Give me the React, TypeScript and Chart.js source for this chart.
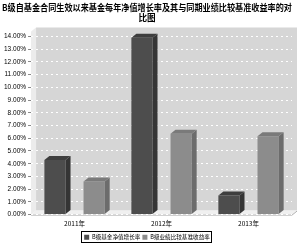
import React, { useEffect, useRef } from "react";
import { Chart, registerables } from "chart.js";

Chart.register(...registerables);

const titleLines = [
  "B级自基金合同生效以来基金每年净值增长率及其与同期业绩比较基准收益率的对",
  "比图",
];
const categories = ["2011年", "2012年", "2013年"];
const seriesNames = ["B级基金净值增长率", "B级业绩比较基准收益率"];
const navGrowth = [4.3, 13.9, 1.5];
const benchmark = [2.6, 6.35, 6.15];
const yMin = 0;
const yMax = 14;
const yStep = 1;

const frontColors = ["#4d4d4d", "#8c8c8c"];
const sideColors = ["#353535", "#6c6c6c"];
const topColors = ["#3e3e3e", "#7a7a7a"];

const depthX = 5;
const depthY = 4;

const wallPlugin = {
  id: "wall",
  beforeDraw(chart: any) {
    const { ctx, chartArea } = chart;
    const { left, right, top, bottom } = chartArea;
    ctx.save();
    ctx.fillStyle = "#ffffff";
    ctx.fillRect(0, 0, chart.width, chart.height);
    ctx.fillStyle = "#d6d6d6";
    ctx.fillRect(left + depthX, top - 9, right - left, bottom - top + 9 - depthY);
    ctx.fillStyle = "#ececec";
    ctx.beginPath();
    ctx.moveTo(left, top - 9 + depthY);
    ctx.lineTo(left + depthX, top - 9);
    ctx.lineTo(left + depthX, bottom - depthY);
    ctx.lineTo(left, bottom);
    ctx.closePath();
    ctx.fill();
    ctx.fillStyle = "#f0f0f0";
    ctx.beginPath();
    ctx.moveTo(left, bottom);
    ctx.lineTo(left + depthX, bottom - depthY);
    ctx.lineTo(right + depthX, bottom - depthY);
    ctx.lineTo(right, bottom);
    ctx.closePath();
    ctx.fill();
    ctx.strokeStyle = "#b0b0b0";
    ctx.lineWidth = 1;
    ctx.beginPath();
    ctx.moveTo(left, bottom + 0.5);
    ctx.lineTo(right, bottom + 0.5);
    ctx.lineTo(right + depthX, bottom - depthY + 0.5);
    ctx.stroke();
    ctx.restore();
  },
};

const bar3dPlugin = {
  id: "bar3d",
  afterDatasetsDraw(chart: any) {
    const { ctx } = chart;
    ctx.save();
    chart.data.datasets.forEach((ds: any, di: number) => {
      const meta = chart.getDatasetMeta(di);
      meta.data.forEach((bar: any) => {
        const { x, y, base, width } = bar.getProps(["x", "y", "base", "width"], true);
        const l = x - width / 2;
        const r = x + width / 2;
        ctx.fillStyle = sideColors[di];
        ctx.beginPath();
        ctx.moveTo(r, y);
        ctx.lineTo(r + depthX, y - depthY);
        ctx.lineTo(r + depthX, base - depthY);
        ctx.lineTo(r, base);
        ctx.closePath();
        ctx.fill();
        ctx.fillStyle = topColors[di];
        ctx.beginPath();
        ctx.moveTo(l, y);
        ctx.lineTo(l + depthX, y - depthY);
        ctx.lineTo(r + depthX, y - depthY);
        ctx.lineTo(r, y);
        ctx.closePath();
        ctx.fill();
      });
    });
    ctx.restore();
  },
  afterDraw(chart: any) {
    const lg = chart.legend;
    if (!lg || !lg.legendHitBoxes || !lg.legendHitBoxes.length) return;
    const boxes = lg.legendHitBoxes;
    let minL = Infinity, maxR = -Infinity, minT = Infinity, maxB = -Infinity;
    boxes.forEach((b: any) => {
      minL = Math.min(minL, b.left);
      maxR = Math.max(maxR, b.left + b.width);
      minT = Math.min(minT, b.top);
      maxB = Math.max(maxB, b.top + b.height);
    });
    const { ctx } = chart;
    ctx.save();
    ctx.strokeStyle = "#000";
    ctx.lineWidth = 1;
    ctx.strokeRect(Math.round(minL - 3) + 0.5, Math.round(minT - 3) + 0.5, Math.round(maxR - minL + 4), Math.round(maxB - minT + 5));
    ctx.restore();
  },
};

export default function App() {
  const ref = useRef<HTMLCanvasElement>(null);
  useEffect(() => {
    if (!ref.current) return;
    const chart = new Chart(ref.current, {
      type: "bar",
      data: {
        labels: categories,
        datasets: [
          { label: seriesNames[0], data: navGrowth, backgroundColor: frontColors[0] },
          { label: seriesNames[1], data: benchmark, backgroundColor: frontColors[1] },
        ],
      },
      options: {
        animation: false,
        responsive: true,
        maintainAspectRatio: false,
        layout: { padding: { left: 2, right: 8, top: 0, bottom: -4 } },
        datasets: { bar: { categoryPercentage: 0.9, barPercentage: 0.54 } } as any,
        plugins: {
          title: {
            display: true,
            text: titleLines,
            color: "#000",
            font: { family: "'Noto Sans CJK SC', sans-serif", size: 8.6, weight: "bold", lineHeight: 1.25 },
            padding: { top: 2, bottom: 13 },
          },
          legend: {
            position: "bottom",
            labels: {
              boxWidth: 5,
              boxHeight: 5,
              padding: 2,
              color: "#000",
              font: { family: "'Noto Sans CJK SC', sans-serif", size: 5.6 },
            },
          },
          tooltip: { enabled: false },
        },
        scales: {
          x: {
            grid: { display: false, drawTicks: false },
            border: { display: false },
            ticks: { color: "#000", font: { family: "'Noto Sans CJK SC', sans-serif", size: 6.5 }, padding: 5 },
          },
          y: {
            min: yMin,
            max: yMax,
            grid: { color: "#ffffff", drawTicks: true, tickLength: 3, tickColor: "#888" },
            border: { display: false, dash: [2, 3] },
            ticks: {
              stepSize: yStep,
              color: "#000",
              padding: 2,
              font: { family: "Arial, 'Liberation Sans', sans-serif", size: 6.5 },
              callback: (v: any) => Number(v).toFixed(2) + "%",
            },
          },
        },
      },
      plugins: [wallPlugin, bar3dPlugin],
    });
    return () => chart.destroy();
  }, []);
  return (
    <div style={{ position: "fixed", left: 0, top: 0, width: 300, height: 246 }}>
      <canvas ref={ref} />
    </div>
  );
}
